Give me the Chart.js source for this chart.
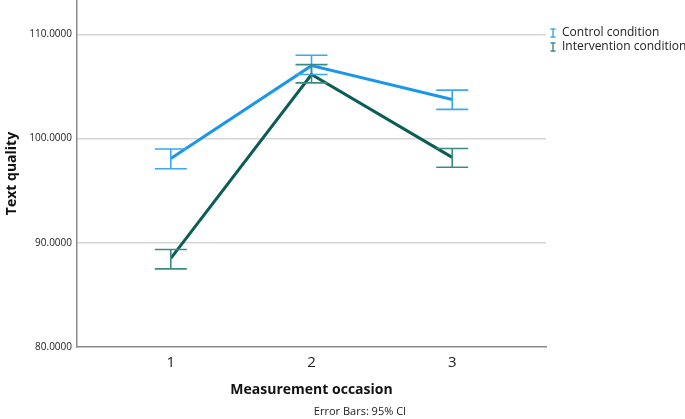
<!DOCTYPE html>
<html><head><meta charset="utf-8">
<script src="https://cdn.jsdelivr.net/npm/chart.js@4"></script>
<style>html,body{margin:0;padding:0;background:#fff}#wrap{position:relative;width:685px;height:419px}</style>
</head><body><div id="wrap"><canvas id="c" width="685" height="419"></canvas></div>
<script>
const occasions = [1, 2, 3];
const xTickLabels = ['1', '2', '3'];
const yTicks = [80, 90, 100, 110];
const seriesNames = ['Control condition', 'Intervention condition'];
const controlMean = [98.1, 107.0, 103.75];
const controlLow = [97.1, 106.15, 102.8];
const controlHigh = [99.0, 108.0, 104.65];
const interventionMean = [88.5, 106.15, 98.2];
const interventionLow = [87.5, 105.35, 97.25];
const interventionHigh = [89.35, 107.1, 99.05];

const lineColors = ['#1c96e8', '#0b5d56'];
const barColors = ['#3aa7ef', '#3c8b83'];

const errorBars = {
  id: 'errorBars',
  afterDatasetsDraw(chart) {
    const {ctx, scales: {x, y}} = chart;
    const sets = [[controlLow, controlHigh], [interventionLow, interventionHigh]];
    ctx.save();
    sets.forEach((s, i) => {
      ctx.strokeStyle = barColors[i];
      ctx.lineWidth = 1.6;
      occasions.forEach((o, j) => {
        const px = x.getPixelForValue(o);
        const lo = y.getPixelForValue(s[0][j]);
        const hi = y.getPixelForValue(s[1][j]);
        ctx.beginPath();
        ctx.moveTo(px, lo); ctx.lineTo(px, hi);
        ctx.moveTo(px - 16, lo); ctx.lineTo(px + 16, lo);
        ctx.moveTo(px - 16, hi); ctx.lineTo(px + 16, hi);
        ctx.stroke();
      });
    });
    // legend
    seriesNames.forEach((n, i) => {
      const ly = 33 + i * 14;
      const lx = 553;
      ctx.strokeStyle = barColors[i];
      ctx.lineWidth = 1.4;
      ctx.beginPath();
      ctx.moveTo(lx, ly - 4); ctx.lineTo(lx, ly + 4);
      ctx.moveTo(lx - 2.5, ly - 4); ctx.lineTo(lx + 2.5, ly - 4);
      ctx.moveTo(lx - 2.5, ly + 4); ctx.lineTo(lx + 2.5, ly + 4);
      ctx.stroke();
      ctx.fillStyle = '#222';
      ctx.font = '12px "Open Sans", "DejaVu Sans", sans-serif';
      ctx.textBaseline = 'middle';
      ctx.textAlign = 'left';
      ctx.fillText(n, 562, ly);
    });
    ctx.fillStyle = '#222';
    ctx.font = '11px "Open Sans", "DejaVu Sans", sans-serif';
    ctx.textAlign = 'center';
    ctx.textBaseline = 'middle';
    ctx.fillText('Error Bars: 95% CI', 360, 412);
    ctx.restore();
  }
};

new Chart(document.getElementById('c'), {
  type: 'line',
  data: {
    datasets: [
      {label: seriesNames[0], data: occasions.map((o, i) => ({x: o, y: controlMean[i]})), borderColor: lineColors[0], borderWidth: 3, pointRadius: 0, tension: 0},
      {label: seriesNames[1], data: occasions.map((o, i) => ({x: o, y: interventionMean[i]})), borderColor: lineColors[1], borderWidth: 3, pointRadius: 0, tension: 0}
    ]
  },
  options: {
    responsive: false,
    animation: false,
    layout: {padding: {left: 0, right: 139, top: 0, bottom: 21}},
    plugins: {legend: {display: false}, tooltip: {enabled: false}},
    scales: {
      x: {
        type: 'linear', min: 1/3, max: 11/3,
        afterBuildTicks(s) { s.ticks = occasions.map(v => ({value: v})); },
        afterFit(s) { s.height = 51; s.paddingLeft = 0; s.paddingRight = 0; },
        grid: {display: false, drawTicks: false},
        border: {color: '#8a8a8a', width: 1.5},
        ticks: {callback: (v) => xTickLabels[occasions.indexOf(v)] ?? '', color: '#222', padding: 7, font: {size: 15, family: '"Open Sans", "DejaVu Sans", sans-serif'}},
        title: {display: true, text: 'Measurement occasion', color: '#111', font: {size: 14, weight: 'bold', family: '"Open Sans", "DejaVu Sans", sans-serif'}, padding: {top: 6, bottom: 0}}
      },
      y: {
        min: 80, max: 113.3,
        afterBuildTicks(s) { s.ticks = yTicks.map(v => ({value: v})); },
        afterFit(s) { s.width = 77; s.paddingTop = 0; s.paddingBottom = 0; },
        grid: {color: (c) => c.tick && c.tick.value === 80 ? 'rgba(0,0,0,0)' : '#d4d4d4', lineWidth: 1.5, drawTicks: false},
        border: {color: '#8a8a8a', width: 1.5},
        ticks: {callback: (v) => Number(v).toFixed(4), color: '#222', padding: 5, font: {size: 10, family: '"Open Sans", "DejaVu Sans", sans-serif'}},
        title: {display: true, text: 'Text quality', color: '#111', font: {size: 14, weight: 'bold', family: '"Open Sans", "DejaVu Sans", sans-serif'}, padding: {top: 4, bottom: 0}}
      }
    }
  },
  plugins: [errorBars]
});
</script></body></html>
